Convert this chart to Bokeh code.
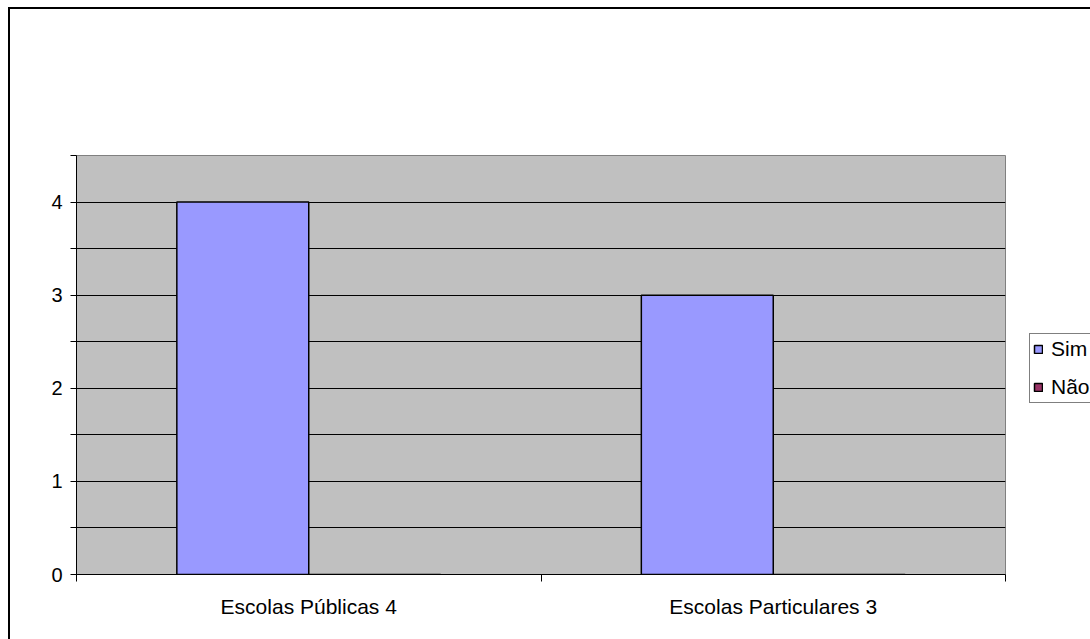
from bokeh.plotting import figure
from bokeh.models import Range1d, FixedTicker, Legend, LegendItem, ColumnDataSource
from bokeh.embed import file_html
from bokeh.resources import INLINE

# ---- data ----
categories = ["Escolas Públicas 4", "Escolas Particulares 3"]
series_names = ["Sim", "Não"]
sim_values = [4, 3]
nao_values = [0, 0]
y_tick_values = [0, 0.5, 1, 1.5, 2, 2.5, 3, 3.5, 4, 4.5]
y_tick_labels = ["0", "", "1", "", "2", "", "3", "", "4", ""]

# ---- styles ----
FONT = "Liberation Sans"
BAR_W = 0.284
SIM_COLOR = "#9999FF"
NAO_COLOR = "#993366"

centers = [i + 0.5 for i in range(len(categories))]
sim_x = [c - BAR_W / 2 for c in centers]
nao_x = [c + BAR_W / 2 for c in centers]

src_sim = ColumnDataSource(dict(x=sim_x, top=sim_values))
src_nao = ColumnDataSource(dict(x=nao_x, top=nao_values))

p = figure(frame_width=929, frame_height=419, output_backend="svg", toolbar_location=None,
           x_range=Range1d(0, len(categories)), y_range=Range1d(0, 4.5),
           min_border_left=66, min_border_right=85, min_border_top=146, min_border_bottom=65)
p.margin = (7, 0, 0, 8)
p.styles = {"border-top": "2px solid black", "border-left": "2px solid black"}
p.background_fill_color = "#C0C0C0"
p.border_fill_color = "white"
p.outline_line_color = "#808080"
p.outline_line_width = 1

r_sim = p.vbar(x="x", top="top", bottom=0, width=BAR_W, source=src_sim,
               fill_color=SIM_COLOR, line_color="black", line_width=1.5)
r_nao = p.vbar(x="x", top="top", bottom=0, width=BAR_W, source=src_nao,
               fill_color=NAO_COLOR, line_color="black", line_width=1.5)

# y axis
p.yaxis.ticker = FixedTicker(ticks=y_tick_values, minor_ticks=[])
p.yaxis.major_label_overrides = {v: l for v, l in zip(y_tick_values, y_tick_labels)}
p.yaxis.major_tick_out = 6
p.yaxis.major_tick_in = 0
p.yaxis.minor_tick_line_color = None
p.yaxis.axis_line_color = "black"
p.yaxis.major_tick_line_color = "black"
p.yaxis.major_label_text_font = FONT
p.yaxis.major_label_text_font_size = "20px"
p.yaxis.major_label_text_color = "black"
p.yaxis.major_label_standoff = 8

# x axis: labels at category centers, tick marks at category boundaries
p.xaxis.ticker = FixedTicker(ticks=centers, minor_ticks=list(range(len(categories) + 1)))
p.xaxis.major_label_overrides = {c: l for c, l in zip(centers, categories)}
p.xaxis.major_tick_line_color = None
p.xaxis.major_tick_out = 7
p.xaxis.minor_tick_out = 7
p.xaxis.minor_tick_in = 0
p.xaxis.minor_tick_line_color = "black"
p.xaxis.axis_line_color = "black"
p.xaxis.major_label_text_font = FONT
p.xaxis.major_label_text_font_size = "21px"
p.xaxis.major_label_text_color = "black"
p.xaxis.major_label_standoff = 13

# grid
p.xgrid.grid_line_color = None
p.ygrid.ticker = FixedTicker(ticks=y_tick_values)
p.ygrid.grid_line_color = "black"
p.ygrid.grid_line_width = 1

# legend (in the right-hand panel)
legend = Legend(items=[LegendItem(label=series_names[0], renderers=[r_sim]),
                       LegendItem(label=series_names[1], renderers=[r_nao])],
                location=(24, 171))
legend.border_line_color = "black"
legend.border_line_width = 1
legend.background_fill_color = "white"
legend.background_fill_alpha = 1
legend.label_text_font = FONT
legend.label_text_font_size = "21px"
legend.label_text_color = "black"
legend.glyph_width = 10
legend.glyph_height = 10
legend.label_standoff = 8
legend.padding = 3
legend.spacing = 14
legend.margin = 0
p.add_layout(legend, "right")

open("out.html", "w").write(file_html(p, INLINE))
